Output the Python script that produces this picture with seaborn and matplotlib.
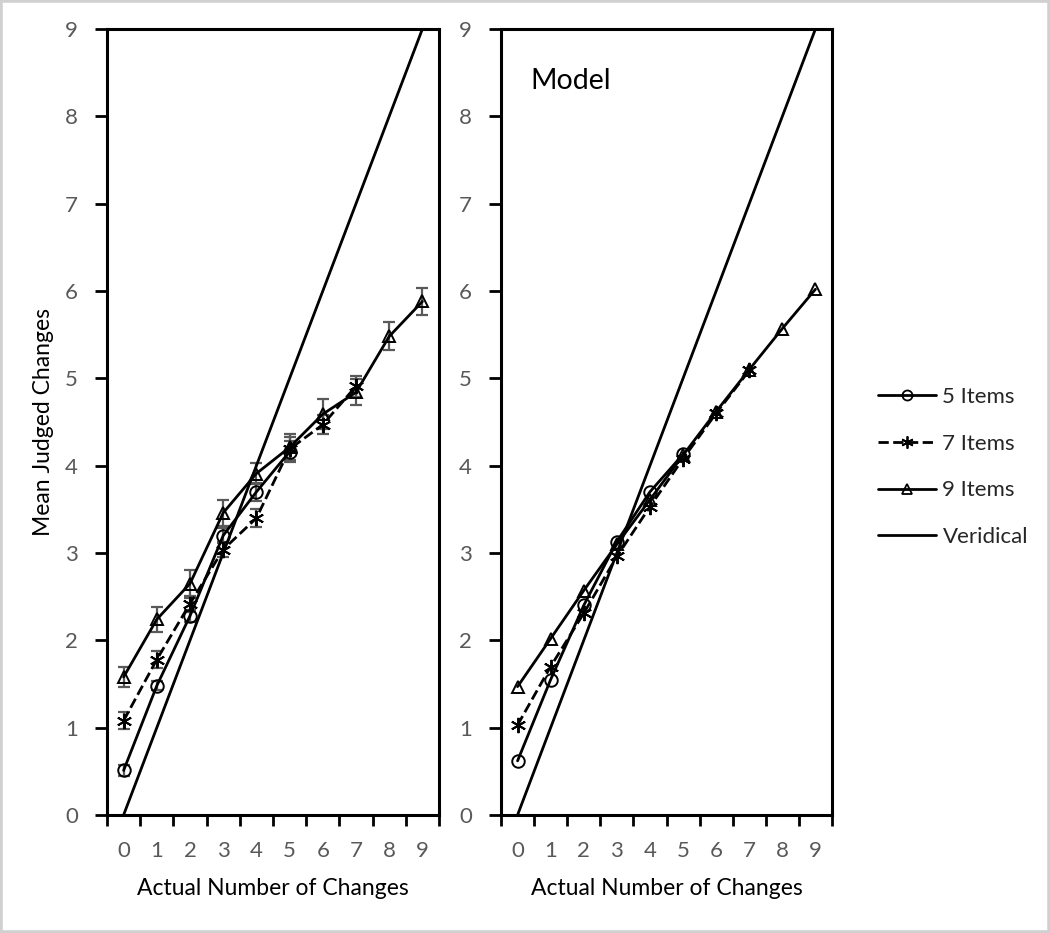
import matplotlib
matplotlib.use("Agg")
import matplotlib.pyplot as plt
from matplotlib.lines import Line2D
from matplotlib.patches import Rectangle
import seaborn as sns

# x categories
changes = list(range(10))
tick_labels = [str(c) for c in changes]

# observed judgements (left panel): means and error bar half-widths
obs_5 = [0.51, 1.48, 2.28, 3.20, 3.70, 4.16]
obs_5_err = [0.06, 0.05, 0.07, 0.09, 0.10, 0.12]
obs_7 = [1.08, 1.78, 2.42, 3.04, 3.40, 4.19, 4.47, 4.91]
obs_7_err = [0.10, 0.10, 0.09, 0.09, 0.10, 0.14, 0.11, 0.12]
obs_9 = [1.58, 2.24, 2.65, 3.46, 3.91, 4.21, 4.59, 4.84, 5.48, 5.88]
obs_9_err = [0.11, 0.14, 0.16, 0.15, 0.12, 0.15, 0.17, 0.15, 0.16, 0.16]

# model predictions (right panel)
mod_5 = [0.62, 1.55, 2.40, 3.13, 3.70, 4.13]
mod_7 = [1.03, 1.70, 2.31, 2.96, 3.53, 4.08, 4.60, 5.09]
mod_9 = [1.47, 2.02, 2.57, 3.10, 3.61, 4.12, 4.62, 5.10, 5.57, 6.02]

veridical = [0, 9]

series_names = ["5 Items", "7 Items", "9 Items", "Veridical"]
markers = ["o", (6, 2, 0), "^", None]
marker_sizes = [9, 11, 9, 0]
linestyles = ["-", "--", "-", "-"]

sns.set_theme(style="white")
plt.rcParams["font.family"] = ["Lato", "DejaVu Sans"]

fig = plt.figure(figsize=(10.5, 9.33), dpi=100)
ax1 = fig.add_axes([107 / 1050, 118 / 933, 332 / 1050, 786 / 933])
ax2 = fig.add_axes([501 / 1050, 118 / 933, 331 / 1050, 786 / 933])

tick_grey = "#595959"


def draw_panel(ax, data, errs=None):
    for i, ys in enumerate(data):
        xs = changes[:len(ys)]
        if errs is not None:
            ax.errorbar(xs, ys, yerr=errs[i], fmt="none", ecolor=tick_grey,
                        elinewidth=1.6, capsize=4.5, capthick=1.6, zorder=2)
        sns.lineplot(x=xs, y=ys, ax=ax, color="black", lw=2.0,
                     linestyle=linestyles[i], marker=markers[i],
                     ms=marker_sizes[i], mfc="none", mec="black", mew=1.4,
                     errorbar=None, zorder=3)
    sns.lineplot(x=veridical, y=veridical, ax=ax, color="black", lw=2.0,
                 errorbar=None, zorder=3)

    ax.set_xlim(-0.5, 9.5)
    ax.set_ylim(0, 9)
    ax.set_yticks(range(10))
    ax.set_xticks([c - 0.5 for c in range(11)])
    ax.set_xticklabels([])
    ax.set_xticks(changes, minor=True)
    ax.set_xticklabels(tick_labels, minor=True)
    ax.tick_params(axis="x", which="major", direction="out", length=8,
                   width=2, color="black", bottom=True)
    ax.tick_params(axis="x", which="minor", length=0, pad=19,
                   labelsize=16, labelcolor=tick_grey)
    ax.tick_params(axis="y", direction="out", length=9, width=2,
                   color="black", left=True, pad=12, labelsize=16,
                   labelcolor=tick_grey)
    for sp in ax.spines.values():
        sp.set_color("black")
        sp.set_linewidth(2.2)
    ax.set_xlabel("Actual Number of Changes", fontsize=16.5,
                  color="black", labelpad=12)
    ax.set_ylabel("")
    ax.grid(False)


draw_panel(ax1, [obs_5, obs_7, obs_9], [obs_5_err, obs_7_err, obs_9_err])
draw_panel(ax2, [mod_5, mod_7, mod_9])

ax1.set_ylabel("Mean Judged Changes", fontsize=16.5, color="black",
               labelpad=8)
ax2.text(0.09, 0.95, "Model", transform=ax2.transAxes, fontsize=20.5,
         ha="left", va="top", color="black")

handles = []
for i, name in enumerate(series_names):
    handles.append(Line2D([], [], color="black", lw=2.0,
                          linestyle=linestyles[i], marker=markers[i],
                          ms=marker_sizes[i] * 0.8, mfc="none", mec="black",
                          mew=1.3))
fig.legend(handles, series_names, loc="center left",
           bbox_to_anchor=(858 / 1050, 466 / 933), frameon=False,
           fontsize=16, handlelength=2.6, labelspacing=1.2,
           handletextpad=0.3)

fig.patches.append(Rectangle((0, 0), 1, 1, transform=fig.transFigure,
                             fill=False, edgecolor="#d0d0d0", lw=4))

fig.savefig("out.png", dpi=100, facecolor="white")
